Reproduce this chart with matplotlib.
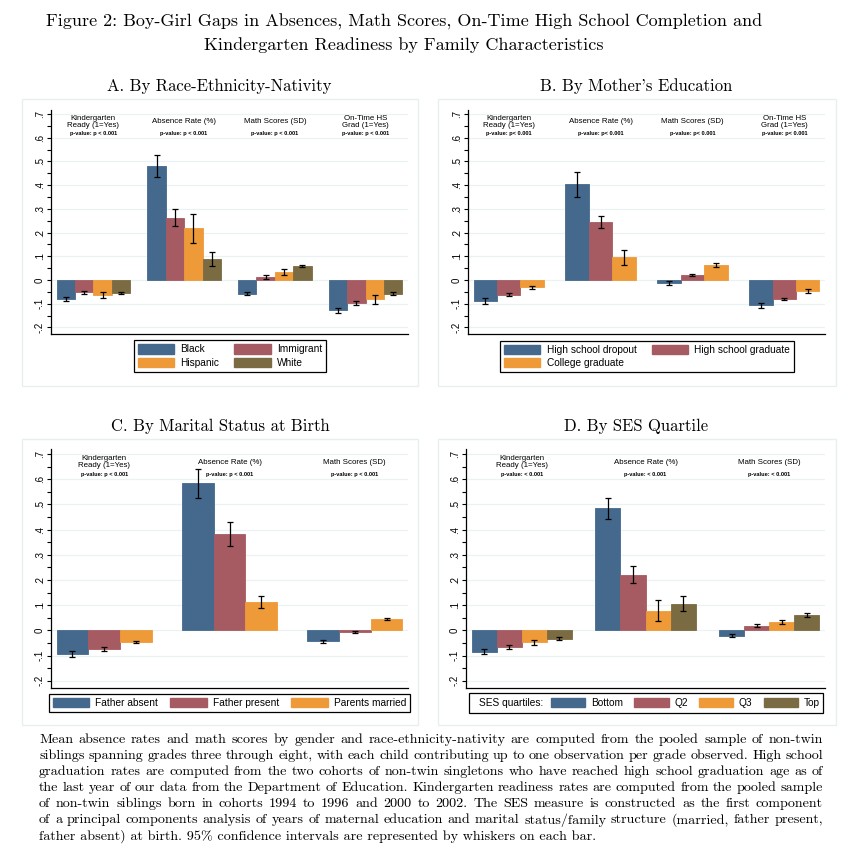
import numpy as np
import matplotlib
matplotlib.use("Agg")
import matplotlib.pyplot as plt
from matplotlib.patches import Rectangle, Patch
from matplotlib.transforms import blended_transform_factory

W, H = 845, 851
SANS = ["Liberation Sans", "DejaVu Sans"]
SERIF = ["cmr10", "DejaVu Serif"]

BLUE, RED, ORANGE, OLIVE = "#44698C", "#A65B62", "#EE9A38", "#7B6B42"

outcomes = ["Kindergarten\nReady (1=Yes)", "Absence Rate (%)",
            "Math Scores (SD)", "On-Time HS\nGrad (1=Yes)"]
ytick_vals = [-0.2, -0.1, 0.0, 0.1, 0.2, 0.3, 0.4, 0.5, 0.6, 0.7]
ytick_labels = ["-.2", "-.1", "0", ".1", ".2", ".3", ".4", ".5", ".6", ".7"]

# A. race-ethnicity-nativity (means, 95% CI half widths)
race_labels = ["Black", "Immigrant", "Hispanic", "White"]
race_black = [-0.081, 0.481, -0.058, -0.128]
race_immig = [-0.051, 0.263, 0.013, -0.096]
race_hisp = [-0.063, 0.218, 0.034, -0.082]
race_white = [-0.054, 0.087, 0.059, -0.058]
race_black_ci = [0.009, 0.045, 0.006, 0.010]
race_immig_ci = [0.006, 0.036, 0.008, 0.008]
race_hisp_ci = [0.012, 0.060, 0.011, 0.019]
race_white_ci = [0.005, 0.030, 0.006, 0.006]

# B. mother's education
edu_labels = ["High school dropout", "High school graduate", "College graduate"]
edu_drop = [-0.089, 0.403, -0.014, -0.107]
edu_grad = [-0.062, 0.244, 0.020, -0.080]
edu_coll = [-0.031, 0.096, 0.062, -0.045]
edu_drop_ci = [0.011, 0.052, 0.008, 0.011]
edu_grad_ci = [0.006, 0.025, 0.004, 0.006]
edu_coll_ci = [0.007, 0.031, 0.008, 0.008]

# C. marital status at birth
mar_labels = ["Father absent", "Father present", "Parents married"]
mar_absent = [-0.095, 0.583, -0.044]
mar_present = [-0.075, 0.382, -0.007]
mar_married = [-0.048, 0.112, 0.044]
mar_absent_ci = [0.011, 0.058, 0.007]
mar_present_ci = [0.009, 0.046, 0.005]
mar_married_ci = [0.004, 0.024, 0.003]

# D. SES quartile
ses_labels = ["Bottom", "Q2", "Q3", "Top"]
ses_bottom = [-0.085, 0.484, -0.022]
ses_q2 = [-0.066, 0.220, 0.019]
ses_q3 = [-0.048, 0.077, 0.032]
ses_top = [-0.033, 0.106, 0.061]
ses_bottom_ci = [0.011, 0.042, 0.006]
ses_q2_ci = [0.008, 0.034, 0.005]
ses_q3_ci = [0.009, 0.042, 0.008]
ses_top_ci = [0.005, 0.030, 0.007]

caption = [
    "Mean absence rates and math scores by gender and race-ethnicity-nativity are computed from the pooled sample of non-twin",
    "siblings spanning grades three through eight, with each child contributing up to one observation per grade observed. High school",
    "graduation rates are computed from the two cohorts of non-twin singletons who have reached high school graduation age as of",
    "the last year of our data from the Department of Education. Kindergarten readiness rates are computed from the pooled sample",
    "of non-twin siblings born in cohorts 1994 to 1996 and 2000 to 2002. The SES measure is constructed as the first component",
    "of a principal components analysis of years of maternal education and marital status/family structure (married, father present,",
    "father absent) at birth. 95% confidence intervals are represented by whiskers on each bar.",
]

fig = plt.figure(figsize=(W / 100, H / 100), dpi=100)


def px_axes(left, right, top, bottom):
    return fig.add_axes([left / W, 1 - bottom / H, (right - left) / W, (bottom - top) / H])


def panel_box(x0, y0, x1, y1):
    fig.add_artist(Rectangle((x0 / W, 1 - y1 / H), (x1 - x0) / W, (y1 - y0) / H,
                             transform=fig.transFigure, fill=False,
                             edgecolor="#E7EFEF", lw=1.0))


def draw_panel(ax, means, cis, colors, pval, n_out, gap=0.93):
    n = len(means)
    centers = np.arange(n_out) * (n + gap)
    for j, (m, e, c) in enumerate(zip(means, cis, colors)):
        xs = centers + (j - (n - 1) / 2)
        ax.bar(xs, m, width=1.0, color=c, edgecolor=c, lw=0.6, zorder=2)
        ax.errorbar(xs, m, yerr=e, fmt="none", ecolor="black", elinewidth=0.9,
                    capsize=2.3, capthick=0.9, zorder=3)
    ax.margins(x=0.016)
    ax.set_ylim(-0.227, 0.718)
    ax.set_yticks(ytick_vals)
    ax.set_yticklabels(ytick_labels, rotation=90, va="center", family=SANS, fontsize=7)
    ax.set_yticks(np.arange(-0.15, 0.7, 0.1), minor=True)
    ax.tick_params(axis="y", which="both", length=3, width=0.8, pad=1.5, color="black")
    ax.tick_params(axis="x", bottom=False, labelbottom=False)
    ax.yaxis.grid(True, color="#EAF2F3", lw=0.9)
    ax.set_axisbelow(True)
    for s in ("top", "right"):
        ax.spines[s].set_visible(False)
    for s in ("left", "bottom"):
        ax.spines[s].set_linewidth(0.9)
    tr = blended_transform_factory(ax.transData, ax.transAxes)
    for i in range(n_out):
        ax.text(centers[i], 0.947, outcomes[i], transform=tr, ha="center", va="center",
                family=SANS, fontsize=5.7, linespacing=0.95)
        ax.text(centers[i], 0.893, pval, transform=tr, ha="center", va="center",
                family=SANS, fontsize=4.1, fontweight="bold")


def legend(handles, labels, cx, cy, ncol, colsp):
    lg = fig.legend(handles, labels, loc="center", bbox_to_anchor=(cx / W, 1 - cy / H),
                    ncol=ncol, frameon=True, fancybox=False, edgecolor="black",
                    framealpha=1, prop={"family": SANS, "size": 7.3},
                    handlelength=3.6, handleheight=1.05, handletextpad=0.6,
                    columnspacing=colsp, labelspacing=0.3, borderpad=0.4,
                    borderaxespad=0)
    lg.get_frame().set_linewidth(0.9)
    return lg


def patches(colors):
    return [Patch(facecolor=c, edgecolor=c) for c in colors]


def row_major(items, ncol):
    # matplotlib fills legend columns first; the reference fills rows first
    nrow = -(-len(items) // ncol)
    return [items[r * ncol + c] for c in range(ncol) for r in range(nrow)
            if r * ncol + c < len(items)]


# titles
fig.text(404 / W, 1 - 22 / H,
         "Figure 2: Boy-Girl Gaps in Absences, Math Scores, On-Time High School Completion and",
         ha="center", va="center", family=SERIF, fontsize=13)
fig.text(404 / W, 1 - 45 / H, "Kindergarten Readiness by Family Characteristics",
         ha="center", va="center", family=SERIF, fontsize=13)
for txt, x, y in [("A. By Race-Ethnicity-Nativity", 219, 86), ("B. By Mother's Education", 636, 86),
                  ("C. By Marital Status at Birth", 220, 426), ("D. By SES Quartile", 636, 426)]:
    fig.text(x / W, 1 - y / H, txt, ha="center", va="center", family=SERIF, fontsize=12)

panel_box(22, 99, 418, 386)
panel_box(438, 99, 836, 386)
panel_box(22, 439, 418, 725)
panel_box(438, 439, 836, 725)

# A
ax = px_axes(51, 408, 109.8, 333.8)
c4 = [BLUE, RED, ORANGE, OLIVE]
draw_panel(ax, [race_black, race_immig, race_hisp, race_white],
           [race_black_ci, race_immig_ci, race_hisp_ci, race_white_ci], c4,
           "p-value: p < 0.001", 4)
legend(row_major(patches(c4), 2), row_major(race_labels, 2), 230, 356, 2, 1.5)

# B
ax = px_axes(468, 825, 109.8, 333.8)
c3 = [BLUE, RED, ORANGE]
draw_panel(ax, [edu_drop, edu_grad, edu_coll], [edu_drop_ci, edu_grad_ci, edu_coll_ci], c3,
           "p-value: p< 0.001", 4)
legend(row_major(patches(c3), 2), row_major(edu_labels, 2), 647, 356.5, 2, 1.5)

# C
ax = px_axes(51, 408, 449.4, 687.5)
draw_panel(ax, [mar_absent, mar_present, mar_married],
           [mar_absent_ci, mar_present_ci, mar_married_ci], c3, "p-value: p < 0.001", 3)
legend(patches(c3), mar_labels, 229.5, 703, 3, 1.2)

# D
ax = px_axes(466, 825, 449.4, 687.5)
draw_panel(ax, [ses_bottom, ses_q2, ses_q3, ses_top],
           [ses_bottom_ci, ses_q2_ci, ses_q3_ci, ses_top_ci], c4, "p-value: < 0.001", 3)
lg = fig.legend(patches(c4), ses_labels, loc="center left", bbox_to_anchor=(551 / W, 1 - 703 / H),
                ncol=4, frameon=False, prop={"family": SANS, "size": 7.3},
                handlelength=3.4, handleheight=1.05, handletextpad=0.55,
                columnspacing=1.1, borderpad=0, borderaxespad=0)
fig.text(479 / W, 1 - 703 / H, "SES quartiles:", ha="left", va="center", family=SANS, fontsize=7.3)
fig.add_artist(Rectangle((469 / W, 1 - 713 / H), (823 - 469) / W, 20 / H, transform=fig.transFigure,
                         fill=False, edgecolor="black", lw=0.9))

# caption, justified like the LaTeX source
renderer = fig.canvas.get_renderer()
x0, x1 = 39, 823
cap_size = 10.15
for k, line in enumerate(caption):
    y = 1 - (740 + 16 * k) / H
    if k == len(caption) - 1:
        fig.text(x0 / W, y, line, ha="left", va="center", family=SERIF, fontsize=cap_size)
        continue
    words = line.split()
    objs = [fig.text(0, y, w, ha="left", va="center", family=SERIF, fontsize=cap_size)
            for w in words]
    widths = [o.get_window_extent(renderer).width for o in objs]
    gap = (x1 - x0 - sum(widths)) / (len(words) - 1)
    x = x0
    for o, w in zip(objs, widths):
        o.set_x(x / W)
        x += w + gap

fig.savefig("out.png", dpi=100)
